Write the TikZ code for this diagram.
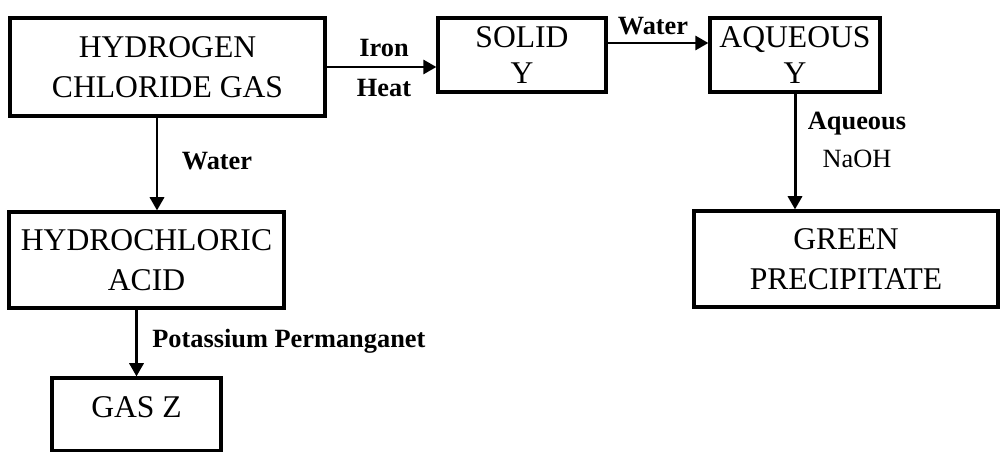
\documentclass[tikz,border=0pt]{standalone}
\usepackage{fontspec}
\setmainfont{Liberation Serif}
\usetikzlibrary{arrows.meta}
\begin{document}
\begin{tikzpicture}[x=0.02cm,y=-0.02cm,
  box/.style={draw,line width=1.8pt,rectangle,inner sep=0pt,align=center,
    font=\fontsize{18}{22.7}\selectfont},
  lbl/.style={inner sep=0pt,font=\fontsize{15}{18}\selectfont\bfseries},
  lblr/.style={inner sep=0pt,font=\fontsize{15}{18}\selectfont},
  arr/.style={line width=1.7pt,-{Triangle[length=7.5pt,width=8pt]}}]
\useasboundingbox (0,0) rectangle (1000,452);
\fill[white] (0,0) rectangle (1000,452);
% boxes
\node[box,minimum width=6.3cm,minimum height=1.96cm] (hcg) at (167.5,67) {HYDROGEN\\CHLORIDE GAS};
\node[box,minimum width=3.36cm,minimum height=1.48cm,font=\fontsize{18}{21}\selectfont] (solid) at (522,55) {SOLID\\Y};
\node[box,minimum width=3.4cm,minimum height=1.48cm,font=\fontsize{18}{21}\selectfont] (aq) at (795,55) {AQUEOUS\\Y};
\node[box,minimum width=5.5cm,minimum height=1.92cm] (hcl) at (146.5,260) {HYDROCHLORIC\\ACID};
\node[box,minimum width=6.08cm,minimum height=1.92cm] (green) at (846,259) {GREEN\\PRECIPITATE};
\node[box,minimum width=3.38cm,minimum height=1.46cm,text depth=8pt] (gasz) at (136.5,414.5) {GAS Z};
% connectors
\draw[arr] (hcg.east) -- (hcg.east -| solid.west);
\draw[arr] (solid.east |- 0,43) -- (aq.west |- 0,43);
\draw[arr] (aq.south) -- (aq.south |- green.north);
\draw[arr] (hcg.south -| 157,0) -- (hcl.north -| 157,0);
\draw[arr] (hcl.south -| gasz.north) -- (gasz.north);
% labels
\node[lbl,anchor=base] (iron) at (384,57) {Iron};
\node[lbl,anchor=base] (heat) at (384,97) {Heat};
\node[lbl,anchor=base] (water1) at (653,35) {Water};
\node[lbl,anchor=base] (water2) at (217,170) {Water};
\node[lbl,anchor=base] (aqlbl) at (857,130) {Aqueous};
\node[lblr,anchor=base] (naoh) at (857,168) {NaOH};
\node[lbl,anchor=base west] (kmno) at (152,347) {Potassium Permanganet};
\end{tikzpicture}
\end{document}
